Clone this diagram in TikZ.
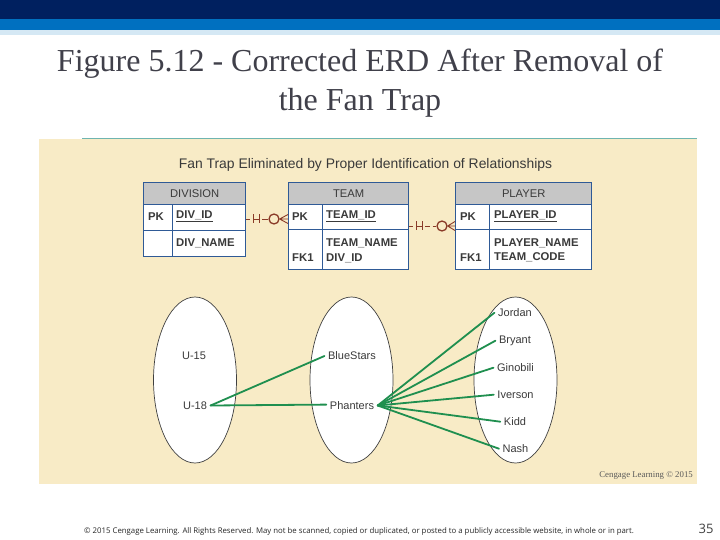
\documentclass[tikz,border=0pt]{standalone}
\usepackage{fontspec}
\setmainfont{Liberation Sans}
\newfontfamily\titlefont{Liberation Serif}
\newfontfamily\footfont{Open Sans}
\usetikzlibrary{shapes.geometric}
\definecolor{navy}{HTML}{00205F}
\definecolor{midblue}{HTML}{0070C0}
\definecolor{paleblue}{HTML}{D5E8F4}
\definecolor{beige}{HTML}{F8EBC6}
\definecolor{teal}{HTML}{6FB5B0}
\definecolor{tabline}{HTML}{2F5A96}
\definecolor{headgray}{HTML}{C6C6C6}
\definecolor{relred}{HTML}{8A3B28}
\definecolor{lineg}{HTML}{1F8F4F}
\definecolor{ink}{HTML}{3A3A3A}
\definecolor{titleink}{HTML}{40404A}
\tikzset{
  x=1pt,y=-1pt,
  cell/.style={draw=tabline,line width=1.4pt,fill=white,inner sep=0pt,anchor=north west},
  head/.style={cell,fill=headgray,text=ink,font=\fontsize{11.2}{13}\selectfont},
  fld/.style={inner sep=0pt,anchor=west,text=ink,font=\bfseries\fontsize{11.3}{13}\selectfont},
  set/.style={ellipse,draw=black!75,line width=0.7pt,fill=white,inner sep=0pt,minimum width=83pt,minimum height=166pt},
  lab/.style={inner sep=3.5pt,text=ink,font=\fontsize{11}{13}\selectfont},
  link/.style={draw=lineg,line width=1.8pt,line cap=round},
  rel/.style={draw=relred,line width=0.9pt},
  ringo/.style={circle,draw=relred,line width=1.3pt,fill=none,inner sep=0pt,minimum size=10pt},
}
\begin{document}
\begin{tikzpicture}
\useasboundingbox (0,0) rectangle (720,540);
\fill[white] (0,0) rectangle (720,540);
% banner
\fill[navy] (0,0) rectangle (720,19);
\fill[midblue] (0,19) rectangle (720,30.5);
\fill[paleblue] (0,30.5) rectangle (720,35);
% title
\node[inner sep=0pt,text=titleink,font=\titlefont\fontsize{32}{39}\selectfont,align=center] (title) at (360,83.5) {Figure 5.12 - Corrected ERD After Removal of\\the Fan Trap};
% panel
\fill[beige] (39,139) rectangle (697,484);
\draw[teal,line width=1pt] (82,138.5) -- (697,138.5);
\node[inner sep=0pt,text=ink,font=\fontsize{13.9}{16}\selectfont] (sub) at (365.5,164.5) {Fan Trap Eliminated by Proper Identification of Relationships};
% DIVISION
\node[head,minimum width=102pt,minimum height=22pt] (divhead) at (143,182) {DIVISION};
\node[cell,minimum width=29pt,minimum height=26pt] (divpk) at (143,204) {};
\node[cell,minimum width=73pt,minimum height=26pt] (divid) at (172,204) {};
\node[cell,minimum width=29pt,minimum height=26pt] (divpk2) at (143,230) {};
\node[cell,minimum width=73pt,minimum height=26pt] (divnm) at (172,230) {};
\node[fld] (t1) at (148,216.5) {PK};
\node[fld] (t2) at (176,216.5) {\underline{DIV\_ID}};
\node[fld] (t3) at (176,243.5) {DIV\_NAME};
% TEAM
\node[head,minimum width=120pt,minimum height=22pt] (teamhead) at (288,182) {TEAM};
\node[cell,minimum width=34pt,minimum height=25pt] (teampk) at (288,204) {};
\node[cell,minimum width=86pt,minimum height=25pt] (teamid) at (322,204) {};
\node[cell,minimum width=34pt,minimum height=40pt] (teampk2) at (288,229) {};
\node[cell,minimum width=86pt,minimum height=40pt] (teamnm) at (322,229) {};
\node[fld] (t4) at (292,216.5) {PK};
\node[fld] (t5) at (326,216.5) {\underline{TEAM\_ID}};
\node[fld] (t6) at (326,243.5) {TEAM\_NAME};
\node[fld] (t7) at (292,258) {FK1};
\node[fld] (t8) at (326,258) {DIV\_ID};
% PLAYER
\node[head,minimum width=136pt,minimum height=22pt] (playhead) at (455,182) {PLAYER};
\node[cell,minimum width=34pt,minimum height=25pt] (playpk) at (455,204) {};
\node[cell,minimum width=102pt,minimum height=25pt] (playid) at (489,204) {};
\node[cell,minimum width=34pt,minimum height=40pt] (playpk2) at (455,229) {};
\node[cell,minimum width=102pt,minimum height=40pt] (playnm) at (489,229) {};
\node[fld] (t9) at (460,216.5) {PK};
\node[fld] (t10) at (494,216.5) {\underline{PLAYER\_ID}};
\node[fld] (t11) at (494,243.5) {PLAYER\_NAME};
\node[fld] (t12) at (460,257.5) {FK1};
\node[fld] (t13) at (494,257.5) {TEAM\_CODE};
% relationship DIVISION-TEAM
\node[ringo] (r1) at (274,219) {};
\coordinate (a1) at (divid.east |- r1);
\coordinate (b1) at (teampk.west |- r1);
\draw[rel] (a1) -- (250,219);
\draw[rel] (253,214.5) -- (253,223.5) (259,214.5) -- (259,223.5) (253,219) -- (259,219);
\draw[rel] (262,219) -- (r1.west);
\draw[rel] (r1.east) -- (b1) (r1.east) -- ([yshift=4.5pt]b1) (r1.east) -- ([yshift=-4.5pt]b1);
% relationship TEAM-PLAYER
\node[ringo] (r2) at (442,226) {};
\coordinate (a2) at (teamid.east |- r2);
\coordinate (b2) at (playpk.west |- r2);
\draw[rel] (a2) -- (413,226);
\draw[rel] (416,221.5) -- (416,230.5) (422,221.5) -- (422,230.5) (416,226) -- (422,226);
\draw[rel,dash pattern=on 5pt off 2.5pt] (425,226) -- (r2.west);
\draw[rel] (r2.east) -- (b2) (r2.east) -- ([yshift=4.5pt]b2) (r2.east) -- ([yshift=-4.5pt]b2);
% sets
\node[set] (s1) at (195,380) {};
\node[set] (s2) at (351.5,380) {};
\node[set] (s3) at (515.5,380) {};
\node[lab] (u15) at (194,355.5) {U-15};
\node[lab] (u18) at (195,405.5) {U-18};
\node[lab] (blue) at (352,356) {BlueStars};
\node[lab] (phan) at (352,405.5) {Phanters};
\node[lab] (jor) at (515,312.7) {Jordan};
\node[lab] (bry) at (515,340.7) {Bryant};
\node[lab] (gin) at (515.5,367.7) {Ginobili};
\node[lab] (ive) at (515.5,394.7) {Iverson};
\node[lab] (kid) at (515,421.7) {Kidd};
\node[lab] (nas) at (515.5,448.7) {Nash};
\draw[link] (u18.east) -- (blue.west);
\draw[link] (u18.east) -- ([yshift=0.9pt]phan.west);
\draw[link] (phan.east) -- (jor.west);
\draw[link] (phan.east) -- (bry.west);
\draw[link] (phan.east) -- (gin.west);
\draw[link] (phan.east) -- (ive.west);
\draw[link] (phan.east) -- (kid.west);
\draw[link] (phan.east) -- (nas.west);
% footers
\node[inner sep=0pt,anchor=east,text=black!65,font=\titlefont\fontsize{8.8}{10}\selectfont] (cr) at (693,476) {Cengage Learning © 2015};
\node[inner sep=0pt,anchor=west,text=black!85,font=\footfont\fontsize{7.8}{9}\selectfont] (foot) at (84,531) {© 2015 Cengage Learning. All Rights Reserved. May not be scanned, copied or duplicated, or posted to a publicly accessible website, in whole or in part.};
\node[inner sep=0pt,text=black!75,font=\footfont\fontsize{13}{15}\selectfont] (num) at (706,528.5) {35};
\end{tikzpicture}
\end{document}
